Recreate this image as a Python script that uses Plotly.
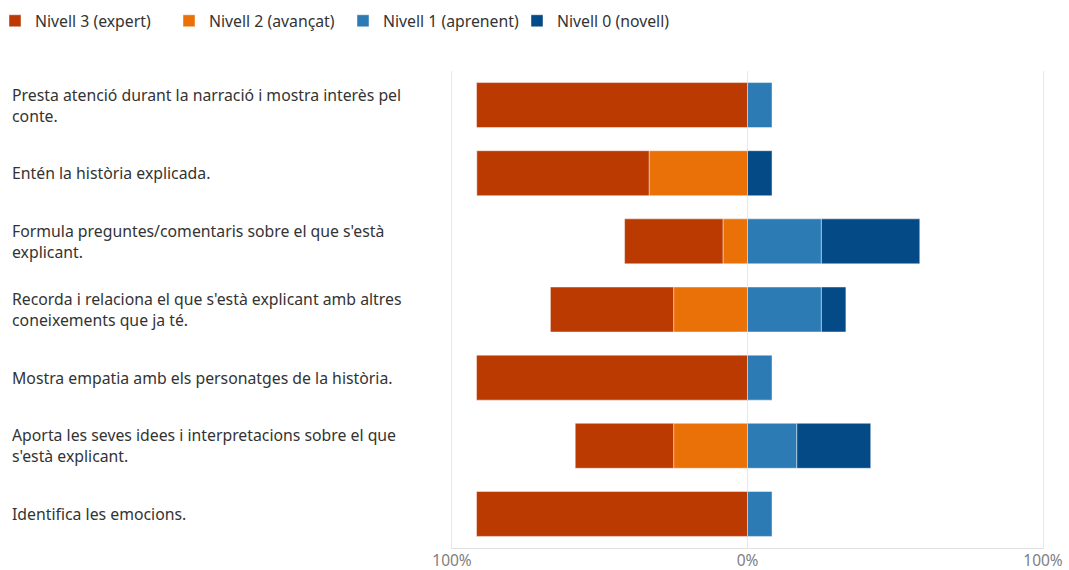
import plotly.graph_objects as go

categories = [
    "Presta atenció durant la narració i mostra interès pel<br>conte.",
    "Entén la història explicada.",
    "Formula preguntes/comentaris sobre el que s'està<br>explicant.",
    "Recorda i relaciona el que s'està explicant amb altres<br>coneixements que ja té.",
    "Mostra empatia amb els personatges de la història.",
    "Aporta les seves idees i interpretacions sobre el que<br>s'està explicant.",
    "Identifica les emocions.",
]
cat_ids = ["c1", "c2", "c3", "c4", "c5", "c6", "c7"]

nivell3 = [91.7, 58.3, 33.3, 41.7, 91.7, 33.3, 91.7]
nivell2 = [None, 33.3, 8.3, 25.0, None, 25.0, None]
nivell1 = [8.3, None, 25.0, 25.0, 8.3, 16.7, 8.3]
nivell0 = [None, 8.3, 33.3, 8.3, None, 25.0, None]

tick_vals = [-100, 0, 100]
tick_text = ["100%", "0%", "100%"]

colors = {
    "Nivell 3 (expert)": "#BA3A02",
    "Nivell 2 (avançat)": "#EA7108",
    "Nivell 1 (aprenent)": "#2C7BB4",
    "Nivell 0 (novell)": "#034A86",
}

FONT = "Segoe UI, Noto Sans, Open Sans, sans-serif"
W, H = 1069, 570
L, R, T, B = 452, 26, 71, 22
PW = W - L - R
PH = H - T - B

def neg(vals):
    return [None if v is None else -v for v in vals]

fig = go.Figure()
series = [
    ("Nivell 2 (avançat)", neg(nivell2), 2),
    ("Nivell 1 (aprenent)", nivell1, 3),
    ("Nivell 0 (novell)", nivell0, 4),
    ("Nivell 3 (expert)", neg(nivell3), 1),
]
for name, vals, rank in series:
    fig.add_trace(go.Bar(
        name=name, y=cat_ids, x=vals, orientation="h",
        marker=dict(color=colors[name], line=dict(color="rgba(255,255,255,0.45)", width=1)),
        legendrank=rank,
    ))

for cid, label in zip(cat_ids, categories):
    fig.add_annotation(
        x=-(L - 10) / PW, xref="paper", y=cid, yref="y",
        text=label, showarrow=False, xanchor="left", yanchor="middle", align="left",
        font=dict(family=FONT, size=15.8, color="#333333"),
    )

fig.update_layout(
    width=W, height=H,
    barmode="relative", bargap=0.34,
    margin=dict(l=L, r=R, t=T, b=B, autoexpand=False),
    paper_bgcolor="white", plot_bgcolor="white",
    font=dict(family=FONT, size=15.8, color="#333333"),
    legend=dict(
        orientation="h", x=-(L + 9) / PW, xref="paper", y=1 + T / PH, yref="paper",
        yanchor="top", xanchor="left", traceorder="normal",
        font=dict(family=FONT, size=15.8, color="#333333"),
        itemwidth=30, borderwidth=4, bordercolor="white", bgcolor="white",
        entrywidth=129, entrywidthmode="pixels",
    ),
    xaxis=dict(
        range=[-100, 100], tickvals=tick_vals, ticktext=tick_text,
        showgrid=True, gridcolor="#E8E8E8", gridwidth=1,
        zeroline=False, showline=True, linecolor="#E2E2E2",
        tickfont=dict(family=FONT, size=15.5, color="#808080"),
        ticklabelstandoff=-2,
        fixedrange=True,
    ),
    yaxis=dict(
        categoryorder="array", categoryarray=cat_ids, autorange="reversed",
        showticklabels=False, showgrid=False, zeroline=False, fixedrange=True,
        showline=True, mirror=True, linecolor="#E8E8E8",
    ),
)

fig.write_html("out.html", config={"displayModeBar": False},
               post_script="document.body.style.margin='0';")
